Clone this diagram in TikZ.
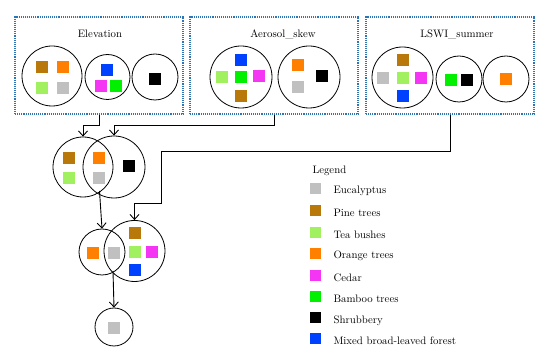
\documentclass[tikz,border=0pt]{standalone}
\usepackage{tikz}
\usetikzlibrary{arrows.meta, positioning}
\definecolor{framecol}{HTML}{2E75B6}
\definecolor{eucgrey}{HTML}{C0C0C0}
\definecolor{pinebrown}{HTML}{B8780A}
\definecolor{teagreen}{HTML}{A0F060}
\definecolor{orangecol}{HTML}{FF8000}
\definecolor{cedarpink}{HTML}{F436F4}
\definecolor{bamboogreen}{HTML}{00F000}
\definecolor{mixedblue}{HTML}{0040FF}
\tikzset{
  factor box/.style={
    draw=framecol, densely dotted, line width=1.1pt,
    minimum width=168pt, minimum height=97pt,
    inner sep=0pt
  },
  title text/.style={font=\fontsize{10.8}{12}\selectfont},
  group/.style={draw, circle, line width=0.8pt, inner sep=0pt},
  sq/.style={minimum size=12pt, inner sep=0pt, draw=none},
  lsq/.style={minimum size=11pt, inner sep=0pt, draw=none},
  euc/.style={sq, fill=eucgrey},
  pine/.style={sq, fill=pinebrown},
  tea/.style={sq, fill=teagreen},
  orng/.style={sq, fill=orangecol},
  cedar/.style={sq, fill=cedarpink},
  bamboo/.style={sq, fill=bamboogreen},
  shrub/.style={sq, fill=black},
  mixed/.style={sq, fill=mixedblue},
  legend text/.style={font=\fontsize{10.8}{12}\selectfont, anchor=west},
  flow/.style={-{Straight Barb[length=5pt, width=9pt]}, line width=0.9pt}
}
\begin{document}
\begin{tikzpicture}[x=1pt, y=-1pt]
  \useasboundingbox (0,0) rectangle (550,358);

  % Factor boxes
  \node[factor box] (elevbox) at (99, 65.5) {};
  \node[factor box] (aerobox) at (274, 65.5) {};
  \node[factor box] (lswibox) at (450, 65.5) {};
  \node[title text] (elevtitle) at (100, 34) {Elevation};
  \node[title text] (aerotitle) at (283, 34) {Aerosol\_skew};
  \node[title text] (lswititle) at (457, 34) {LSWI\_summer};

  % Elevation groups
  \node[group, minimum size=60pt] (e1) at (52, 76) {};
  \node[group, minimum size=45pt] (e2) at (107.5, 77) {};
  \node[group, minimum size=46pt] (e3) at (155, 77) {};
  \node[pine] (e1p) at (42, 67) {};
  \node[orng] (e1o) at (63, 67) {};
  \node[tea] (e1t) at (42, 88) {};
  \node[euc] (e1g) at (63, 88) {};
  \node[mixed] (e2m) at (107, 70) {};
  \node[cedar] (e2c) at (101, 86) {};
  \node[bamboo] (e2b) at (116, 86) {};
  \node[shrub] (e3s) at (155, 79) {};

  % Aerosol_skew groups
  \node[group, minimum size=62pt] (a1) at (241, 77) {};
  \node[group, minimum size=62pt] (a2) at (309, 77) {};
  \node[mixed] (a1m) at (241, 60) {};
  \node[tea] (a1t) at (222, 77) {};
  \node[bamboo] (a1b) at (241, 77) {};
  \node[cedar] (a1c) at (259, 76) {};
  \node[pine] (a1p) at (241, 96) {};
  \node[orng] (a2o) at (298, 65) {};
  \node[euc] (a2g) at (298, 87) {};
  \node[shrub] (a2s) at (322, 76) {};

  % LSWI_summer groups
  \node[group, minimum size=61pt] (l1) at (402.5, 77.5) {};
  \node[group, minimum size=46pt] (l2) at (459, 79) {};
  \node[group, minimum size=46pt] (l3) at (506, 79) {};
  \node[pine] (l1p) at (403, 60) {};
  \node[euc] (l1g) at (383, 78) {};
  \node[tea] (l1t) at (403, 78) {};
  \node[cedar] (l1c) at (421, 78) {};
  \node[mixed] (l1m) at (403, 96) {};
  \node[bamboo] (l2b) at (451, 80) {};
  \node[shrub] (l2s) at (467, 80) {};
  \node[orng] (l3o) at (506, 79) {};

  % First split
  \node[group, minimum size=60pt] (v1a) at (83, 167) {};
  \node[group, minimum size=62pt] (v1b) at (114, 167) {};
  \node[pine] (v1p) at (69, 158) {};
  \node[orng] (v1o) at (99, 158) {};
  \node[tea] (v1t) at (69, 178) {};
  \node[euc] (v1g) at (99, 178) {};
  \node[shrub] (v1s) at (129, 166) {};

  % Second split
  \node[group, minimum size=46pt] (v2a) at (102, 252) {};
  \node[group, minimum size=61pt] (v2b) at (134.5, 251) {};
  \node[orng] (v2o) at (93, 253) {};
  \node[euc] (v2g) at (114, 253) {};
  \node[pine] (v2p) at (135, 233) {};
  \node[tea] (v2t) at (135, 252) {};
  \node[cedar] (v2c) at (152, 252) {};
  \node[mixed] (v2m) at (135, 270) {};

  % Result
  \node[group, minimum size=38pt] (v3) at (114, 327) {};
  \node[euc] (v3g) at (114, 328) {};

  % Connectors
  \coordinate (lswibend) at (161, 151);
  \coordinate (v1low) at (99.5, 191);
  \coordinate (v2low) at (113, 271);
  \draw[flow] (elevbox.south) -- ++(0, 11) -| (v1a.north);
  \draw[flow] (aerobox.south) -- ++(0, 11) -| (v1b.north);
  \draw[flow] (lswibox.south) |- (lswibend) -- ++(0, 52) -| (v2b.north);
  \draw[flow] (v1low) -- (v2a.north);
  \draw[flow] (v2low) -- (v3.north);

  % Legend
  \node[legend text] (legtitle) at (309, 171) {Legend};
  \node[lsq, fill=eucgrey] (leg1) at (315, 189) {};
  \node[lsq, fill=pinebrown] (leg2) at (315, 211) {};
  \node[lsq, fill=teagreen] (leg3) at (315, 233) {};
  \node[lsq, fill=orangecol] (leg4) at (315, 254) {};
  \node[lsq, fill=cedarpink] (leg5) at (315, 276) {};
  \node[lsq, fill=bamboogreen] (leg6) at (315, 297) {};
  \node[lsq, fill=black] (leg7) at (315, 318) {};
  \node[lsq, fill=mixedblue] (leg8) at (315, 339) {};
  \node[legend text] (legt1) at (330, 191) {Eucalyptus};
  \node[legend text] (legt2) at (330, 213) {Pine trees};
  \node[legend text] (legt3) at (330, 235) {Tea bushes};
  \node[legend text] (legt4) at (330, 256) {Orange trees};
  \node[legend text] (legt5) at (330, 278) {Cedar};
  \node[legend text] (legt6) at (330, 299) {Bamboo trees};
  \node[legend text] (legt7) at (330, 321) {Shrubbery};
  \node[legend text] (legt8) at (330, 341) {Mixed broad-leaved forest};
\end{tikzpicture}
\end{document}
